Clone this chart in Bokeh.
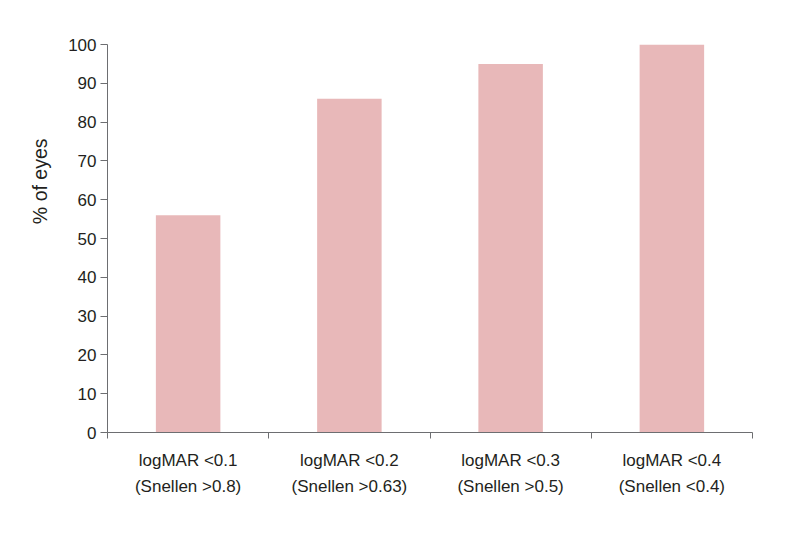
from bokeh.plotting import figure
from bokeh.models import Range1d, FixedTicker, LinearAxis, Title
from bokeh.embed import file_html
from bokeh.resources import INLINE

categories_line1 = ["logMAR <0.1", "logMAR <0.2", "logMAR <0.3", "logMAR <0.4"]
categories_line2 = ["(Snellen >0.8)", "(Snellen >0.63)", "(Snellen >0.5)", "(Snellen <0.4)"]
percent_eyes = [56, 86, 95, 100]
y_ticks = [0, 10, 20, 30, 40, 50, 60, 70, 80, 90, 100]

n = len(percent_eyes)
centers = [i + 0.5 for i in range(n)]
bounds = list(range(n + 1))

FONT = "Liberation Sans"
TEXT = "#231f20"
AXIS = "#6d6e71"

p = figure(frame_width=645, frame_height=388, output_backend="svg", toolbar_location=None,
           x_range=Range1d(0, n), y_range=Range1d(0, 100),
           min_border_left=107, min_border_top=44, min_border_right=35, min_border_bottom=90,
           x_axis_type=None)
p.xgrid.grid_line_color = None
p.ygrid.grid_line_color = None
p.outline_line_color = None
p.background_fill_color = "white"
p.border_fill_color = "white"

p.vbar(x=centers, top=percent_eyes, width=0.4, bottom=0, fill_color="#e8b8b9", line_color=None)

# y axis
ya = p.yaxis[0]
ya.ticker = FixedTicker(ticks=y_ticks)
ya.axis_line_color = AXIS
ya.major_tick_line_color = AXIS
ya.major_tick_out = 7
ya.major_tick_in = 0
ya.minor_tick_line_color = None
ya.major_label_text_font = FONT
ya.major_label_text_font_size = "17px"
ya.major_label_text_color = TEXT
ya.major_label_standoff = 4

# x axis line 1
xa1 = LinearAxis(ticker=FixedTicker(ticks=centers, minor_ticks=bounds))
xa1.major_label_overrides = {c: l for c, l in zip(centers, categories_line1)}
xa1.axis_line_color = AXIS
xa1.major_tick_line_color = None
xa1.major_tick_out = 0
xa1.major_tick_in = 0
xa1.minor_tick_line_color = AXIS
xa1.minor_tick_out = 6
xa1.minor_tick_in = 0
xa1.major_label_text_font = FONT
xa1.major_label_text_font_size = "17px"
xa1.major_label_text_color = TEXT
xa1.major_label_standoff = 12
p.add_layout(xa1, "below")

# x axis line 2
xa2 = LinearAxis(ticker=FixedTicker(ticks=centers))
xa2.major_label_overrides = {c: l for c, l in zip(centers, categories_line2)}
xa2.axis_line_color = None
xa2.major_tick_line_color = None
xa2.major_tick_out = 0
xa2.major_tick_in = 0
xa2.minor_tick_line_color = None
xa2.major_label_text_font = FONT
xa2.major_label_text_font_size = "17px"
xa2.major_label_text_color = TEXT
xa2.major_label_standoff = 4
p.add_layout(xa2, "below")

ytitle = Title(text="% of eyes", align="right", offset=94,
               text_font=FONT, text_font_size="19.5px", text_font_style="normal",
               text_color=TEXT, standoff=30)
p.add_layout(ytitle, "left")

open("out.html", "w").write(file_html(p, INLINE))
